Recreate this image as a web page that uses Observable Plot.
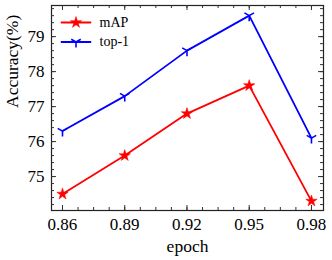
<!DOCTYPE html>
<html>
<head>
<meta charset="utf-8">
<script src="https://cdn.jsdelivr.net/npm/d3@7"></script>
<script src="https://cdn.jsdelivr.net/npm/@observablehq/plot@0.6"></script>
<style>
  html, body { margin: 0; padding: 0; background: #fff; }
</style>
</head>
<body>
<div id="chart"></div>
<script>
// ---- data ----
const epochs = [0.86, 0.89, 0.92, 0.95, 0.98];
const mAP = [74.5, 75.6, 76.8, 77.6, 74.3];
const top1 = [76.3, 77.3, 78.6, 79.6, 76.1];
const seriesNames = ["mAP", "top-1"];
const seriesColors = ["#ff0000", "#0000ff"];
const xTicks = [0.86, 0.89, 0.92, 0.95, 0.98];
const yTicks = [75, 76, 77, 78, 79];
const xLabel = "epoch";
const yLabel = "Accuracy(%)";

// ---- layout ----
const W = 332, H = 260, mL = 51, mR = 9, mT = 5, mB = 50;
const pw = W - mL - mR, ph = H - mT - mB;
const xMinor = d3.range(0.86 - 0.0075 * 4, 0.99, 0.0075).filter(v => v > 0.8547 && v < 0.9858);
const yMinor = d3.range(74.2, 79.9, 0.2);

const rows = [];
epochs.forEach((e, i) => {
  rows.push({epoch: e, value: mAP[i], series: "mAP"});
  rows.push({epoch: e, value: top1[i], series: "top-1"});
});

const triDown = {
  draw(ctx, size) {
    const r = Math.sqrt(size / Math.PI);
    ctx.moveTo(0, 0); ctx.lineTo(0, r);
    ctx.moveTo(0, 0); ctx.lineTo(-r * 0.866, -r * 0.5);
    ctx.moveTo(0, 0); ctx.lineTo(r * 0.866, -r * 0.5);
  }
};
const lineShape = { draw(ctx, l) { ctx.moveTo(0, 0); ctx.lineTo(0, -l); } };

const tickColor = "#333";
function tickMarks() {
  const m = [];
  m.push(Plot.tickX(xTicks, {x: d => d, insetTop: ph - 5, stroke: tickColor}));
  m.push(Plot.tickX(xTicks, {x: d => d, insetBottom: ph - 5, stroke: tickColor}));
  m.push(Plot.tickX(xMinor, {x: d => d, insetTop: ph - 3, stroke: tickColor}));
  m.push(Plot.tickX(xMinor, {x: d => d, insetBottom: ph - 3, stroke: tickColor}));
  m.push(Plot.tickY(yTicks, {y: d => d, insetRight: pw - 5, stroke: tickColor}));
  m.push(Plot.tickY(yTicks, {y: d => d, insetLeft: pw - 5, stroke: tickColor}));
  m.push(Plot.tickY(yMinor, {y: d => d, insetRight: pw - 3, stroke: tickColor}));
  m.push(Plot.tickY(yMinor, {y: d => d, insetLeft: pw - 3, stroke: tickColor}));
  return m;
}

const legendMarks = [];
seriesNames.forEach((name, i) => {
  const dy = 17 + 19.5 * i;
  legendMarks.push(Plot.vector([name], {frameAnchor: "top-left", dx: 10, dy, length: 29, rotate: 90, anchor: "start", shape: lineShape, stroke: seriesColors[i], strokeWidth: 1.8}));
  if (i === 0) {
    legendMarks.push(Plot.dot([name], {frameAnchor: "top-left", dx: 24.5, dy, symbol: "star", r: 3.6, fill: seriesColors[i], stroke: seriesColors[i], strokeWidth: 0.5}));
  } else {
    legendMarks.push(Plot.dot([name], {frameAnchor: "top-left", dx: 24.5, dy, symbol: triDown, r: 5.5, stroke: seriesColors[i], strokeWidth: 1.6, fill: "none"}));
  }
  legendMarks.push(Plot.text([name], {frameAnchor: "top-left", dx: 48, dy, text: d => d, textAnchor: "start", lineAnchor: "middle", fontSize: 14, fill: "#000"}));
});

const chart = Plot.plot({
  width: W, height: H,
  marginLeft: mL, marginRight: mR, marginTop: mT, marginBottom: mB,
  style: {fontFamily: "Liberation Serif", background: "#fff", color: "#000"},
  x: {domain: [0.8547, 0.9858]},
  y: {domain: [74.03, 79.89]},
  marks: [
    Plot.frame({stroke: "#222", strokeWidth: 1.2}),
    ...tickMarks(),
    Plot.axisX({ticks: xTicks, tickSize: 0, tickPadding: 7, tickFormat: d => d.toFixed(2), fontSize: 17, label: null}),
    Plot.axisY({ticks: yTicks, tickSize: 0, tickPadding: 7, tickFormat: d => String(d), fontSize: 17, label: null}),
    Plot.text([xLabel], {frameAnchor: "bottom", dy: 36, text: d => d, fontSize: 17.5, lineAnchor: "middle", fill: "#000"}),
    Plot.text([yLabel], {frameAnchor: "left", dx: -39, rotate: -90, text: d => d, fontSize: 17.5, lineAnchor: "middle", fill: "#000"}),
    Plot.line(rows.filter(d => d.series === "mAP"), {x: "epoch", y: "value", stroke: seriesColors[0], strokeWidth: 1.8}),
    Plot.line(rows.filter(d => d.series === "top-1"), {x: "epoch", y: "value", stroke: seriesColors[1], strokeWidth: 1.8}),
    Plot.dot(rows.filter(d => d.series === "mAP"), {x: "epoch", y: "value", symbol: "star", r: 3.6, fill: seriesColors[0], stroke: seriesColors[0], strokeWidth: 0.5}),
    Plot.dot(rows.filter(d => d.series === "top-1"), {x: "epoch", y: "value", symbol: triDown, r: 5.5, stroke: seriesColors[1], strokeWidth: 1.6, fill: "none"}),
    ...legendMarks
  ]
});
document.getElementById("chart").appendChild(chart);
</script>
</body>
</html>
